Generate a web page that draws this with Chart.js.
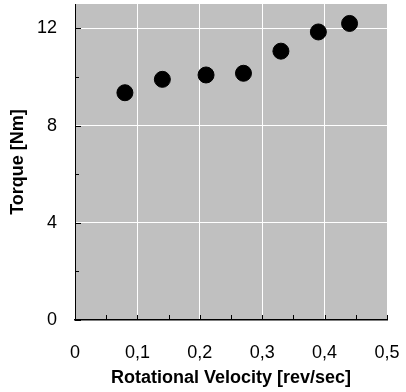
<!DOCTYPE html>
<html>
<head>
<meta charset="utf-8">
<script src="https://cdn.jsdelivr.net/npm/chart.js@4.4.1/dist/chart.umd.min.js"></script>
<style>
  html, body { margin: 0; padding: 0; background: #fff; }
  #wrap { width: 406px; height: 392px; }
</style>
</head>
<body>
<div id="wrap"><canvas id="myChart" width="406" height="392"></canvas></div>
<script>
// data
var velocity = [0.08, 0.14, 0.21, 0.27, 0.33, 0.39, 0.44];
var torque = [9.35, 9.9, 10.08, 10.15, 11.06, 11.85, 12.2];
var xTickLabels = ['0', '0,1', '0,2', '0,3', '0,4', '0,5'];
var yTickLabels = ['0', '4', '8', '12'];

var fontFamily = '"Liberation Sans", Arial, Helvetica, sans-serif';

function noPad(scale) {
    scale.paddingTop = 0;
    scale.paddingBottom = 0;
    scale.paddingLeft = 0;
    scale.paddingRight = 0;
}

// gray plot area + inward minor/major ticks
var plotDecor = {
    id: 'plotDecor',
    beforeDraw: function(chart) {
        var a = chart.chartArea, ctx = chart.ctx;
        ctx.save();
        ctx.fillStyle = '#c0c0c0';
        ctx.fillRect(a.left, a.top, a.right - a.left, a.bottom - a.top);
        ctx.restore();
    },
    afterDatasetsDraw: function(chart) {
        var a = chart.chartArea, ctx = chart.ctx;
        var xs = chart.scales.x, ys = chart.scales.y;
        ctx.save();
        ctx.strokeStyle = '#000';
        ctx.lineWidth = 1;
        ctx.beginPath();
        for (var v = 0; v <= 0.5001; v += 0.05) {
            var px = Math.round(xs.getPixelForValue(v)) + 0.5;
            ctx.moveTo(px, a.bottom);
            ctx.lineTo(px, a.bottom - 5);
        }
        for (var t = 0; t <= 12.001; t += 2) {
            var py = Math.round(ys.getPixelForValue(t)) + 0.5;
            var len = (t % 4 === 0) ? 6 : 4;
            ctx.moveTo(a.left, py);
            ctx.lineTo(a.left + len, py);
        }
        ctx.stroke();
        ctx.restore();
    }
};

const ctx = document.getElementById('myChart').getContext('2d');
const myChart = new Chart(ctx, {
    type: 'scatter',
    data: {
        datasets: [{
            label: 'Torque',
            data: velocity.map(function(v, i) { return {x: v, y: torque[i]}; }),
            backgroundColor: '#000',
            borderColor: '#000',
            pointRadius: 8,
            pointHoverRadius: 8,
        }]
    },
    options: {
        responsive: false,
        animation: false,
        layout: {
            autoPadding: false,
            padding: {left: 0, right: 19, top: 4, bottom: 0}
        },
        scales: {
            x: {
                type: 'linear',
                min: 0,
                max: 0.5,
                afterFit: function(scale) { scale.height = 72; noPad(scale); },
                ticks: {
                    stepSize: 0.1,
                    padding: 22,
                    color: '#000',
                    font: {family: fontFamily, size: 18},
                    maxRotation: 0,
                    callback: function(value, index) { return xTickLabels[index]; }
                },
                grid: {
                    drawTicks: false,
                    lineWidth: 1,
                    color: function(c) {
                        return (c.index === 0 || c.index === xTickLabels.length - 1) ? 'rgba(0,0,0,0)' : '#ffffff';
                    }
                },
                border: {display: true, color: '#000', width: 1.5},
                title: {
                    display: true,
                    text: 'Rotational Velocity [rev/sec]',
                    color: '#000',
                    font: {family: fontFamily, size: 18, weight: 'bold'},
                    padding: {top: 0, bottom: 3}
                }
            },
            y: {
                min: 0,
                max: 13,
                afterFit: function(scale) { scale.width = 75; noPad(scale); },
                ticks: {
                    stepSize: 4,
                    includeBounds: false,
                    padding: 18,
                    color: '#000',
                    font: {family: fontFamily, size: 18},
                    callback: function(value, index) { return yTickLabels[index]; }
                },
                grid: {
                    drawTicks: false,
                    lineWidth: 1,
                    color: function(c) { return c.index === 0 ? 'rgba(0,0,0,0)' : '#ffffff'; }
                },
                border: {display: true, color: '#000', width: 1},
                title: {
                    display: true,
                    text: 'Torque [Nm]',
                    color: '#000',
                    font: {family: fontFamily, size: 18, weight: 'bold'},
                    padding: {top: 7, bottom: 0}
                }
            }
        },
        plugins: {
            legend: {display: false},
            tooltip: {enabled: false},
            title: {display: false}
        }
    },
    plugins: [plotDecor]
});
</script>
</body>
</html>
